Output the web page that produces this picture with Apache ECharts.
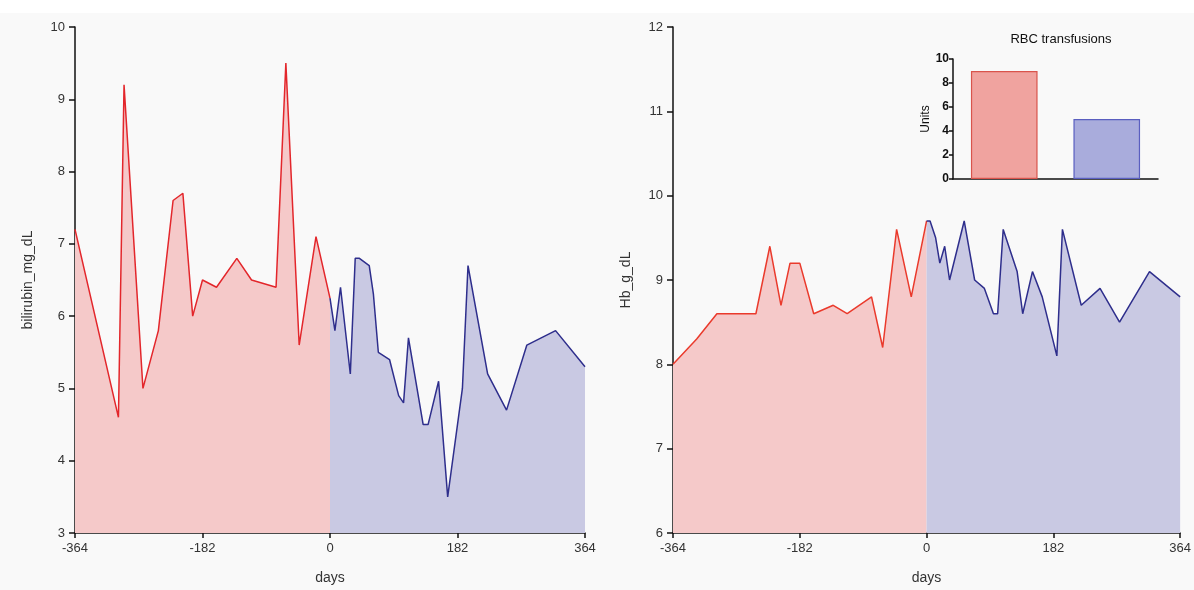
<!DOCTYPE html>
<html>
<head>
<meta charset="utf-8">
<script src="https://cdn.jsdelivr.net/npm/echarts@6/dist/echarts.min.js"></script>
<style>
html,body{margin:0;padding:0;background:#fff;}
#c{width:1194px;height:590px;}
</style>
</head>
<body>
<div id="c"></div>
<script>
// Left chart: bilirubin (mg/dL)
const biliPreDays   = [-364, -302, -294, -267, -245, -224, -210, -196, -182, -162, -133, -112, -77, -63, -44, -20, 0];
const biliPreVals   = [7.2, 4.6, 9.2, 5.0, 5.8, 7.6, 7.7, 6.0, 6.5, 6.4, 6.8, 6.5, 6.4, 9.5, 5.6, 7.1, 6.25];
const biliPostDays  = [0, 7, 15, 29, 36, 42, 56, 62, 69, 85, 98, 105, 112, 133, 140, 155, 168, 189, 197, 225, 252, 281, 322, 364];
const biliPostVals  = [6.25, 5.8, 6.4, 5.2, 6.8, 6.8, 6.7, 6.3, 5.5, 5.4, 4.9, 4.8, 5.7, 4.5, 4.5, 5.1, 3.5, 5.0, 6.7, 5.2, 4.7, 5.6, 5.8, 5.3];

// Right chart: haemoglobin (g/dL)
const hbPreDays  = [-364, -330, -301, -245, -225, -209, -196, -182, -162, -134, -114, -79, -63, -43, -22, 0];
const hbPreVals  = [8.0, 8.3, 8.6, 8.6, 9.4, 8.7, 9.2, 9.2, 8.6, 8.7, 8.6, 8.8, 8.2, 9.6, 8.8, 9.7];
const hbPostDays = [0, 5, 13, 19, 26, 33, 54, 69, 83, 96, 102, 110, 130, 138, 152, 166, 187, 195, 222, 249, 277, 320, 364];
const hbPostVals = [9.7, 9.7, 9.5, 9.2, 9.4, 9.0, 9.7, 9.0, 8.9, 8.6, 8.6, 9.6, 9.1, 8.6, 9.1, 8.8, 8.1, 9.6, 8.7, 8.9, 8.5, 9.1, 8.8];

// Inset: RBC transfusions
const rbcCategories = ['before', 'after'];
const rbcUnits = [9, 5];

function pairs(xs, ys) { return xs.map((x, i) => [x, ys[i]]); }

const RED_LINE = '#e3262b', BLUE_LINE = '#2e2e8c';
const RED_FILL = '#f5c9c9', BLUE_FILL = '#c9c9e3';
const TXT = '#333';
const FONT = 'Liberation Sans, Arial, sans-serif';

function xAxis(gridIndex) {
  return {
    type: 'value', gridIndex, min: -364, max: 364, interval: 182,
    name: 'days', nameLocation: 'middle', nameGap: 38,
    nameTextStyle: { fontSize: 14, color: TXT, fontFamily: FONT },
    axisLine: { show: true, onZero: false, lineStyle: { color: '#111', width: 1.5 } },
    axisTick: { show: true, length: 5, lineStyle: { color: '#111', width: 1.5 } },
    axisLabel: { fontSize: 13, color: TXT, fontFamily: FONT, margin: 9 },
    splitLine: { show: false }
  };
}
function yAxis(gridIndex, min, max, name) {
  return {
    type: 'value', gridIndex, min, max, interval: 1,
    name, nameLocation: 'middle', nameGap: 40,
    nameTextStyle: { fontSize: 14, color: TXT, fontFamily: FONT },
    axisLine: { show: true, onZero: false, lineStyle: { color: '#111', width: 1.5 } },
    axisTick: { show: true, length: 6, lineStyle: { color: '#111', width: 1.5 } },
    axisLabel: { fontSize: 13, color: TXT, fontFamily: FONT, margin: 10 },
    splitLine: { show: false }
  };
}
function areaSeries(idx, data, fill) {
  return { type: 'line', xAxisIndex: idx, yAxisIndex: idx, data, symbol: 'none', silent: true,
    lineStyle: { width: 0 }, areaStyle: { color: fill, opacity: 1, origin: 'start' }, z: 1 };
}
function lineSeries(idx, data, color) {
  return { type: 'line', xAxisIndex: idx, yAxisIndex: idx, data, symbol: 'none', silent: true,
    lineStyle: { width: 1.5, color }, z: 3 };
}

const chart = echarts.init(document.getElementById('c'), null, { renderer: 'canvas' });
chart.setOption({
  animation: false,
  backgroundColor: '#f9f9f9',
  graphic: [{ type: 'rect', left: 0, top: 0, shape: { width: 1194, height: 13 }, style: { fill: '#ffffff' }, z: -10 }],
  title: {
    text: 'RBC transfusions', left: 1056, top: 28, textAlign: 'center',
    textStyle: { fontSize: 13, fontWeight: 'normal', color: '#111', fontFamily: FONT }
  },
  grid: [
    { left: 75, right: 609, top: 27, bottom: 52 },
    { left: 673, right: 6, top: 27, bottom: 52 },
    { left: 953, right: 36, top: 59, bottom: 411 }
  ],
  xAxis: [
    xAxis(0), xAxis(1),
    { type: 'category', gridIndex: 2, data: rbcCategories,
      axisLine: { lineStyle: { color: '#111', width: 1.5 } },
      axisTick: { alignWithLabel: true, length: 4, lineStyle: { color: '#111', width: 1.5 } },
      axisLabel: { show: false } }
  ],
  yAxis: [
    yAxis(0, 3, 10, 'bilirubin_mg_dL'), yAxis(1, 6, 12, 'Hb_g_dL'),
    { type: 'value', gridIndex: 2, min: 0, max: 10, interval: 2,
      name: 'Units', nameLocation: 'middle', nameGap: 21,
      nameTextStyle: { fontSize: 12, color: '#111', fontFamily: FONT },
      axisLine: { show: true, lineStyle: { color: '#111', width: 1.5 } },
      axisTick: { show: true, length: 4, lineStyle: { color: '#111', width: 1.5 } },
      axisLabel: { fontSize: 12, color: '#111', fontWeight: 'bold', fontFamily: FONT, margin: 4 },
      splitLine: { show: false } }
  ],
  series: [
    areaSeries(0, pairs(biliPreDays, biliPreVals), RED_FILL),
    areaSeries(0, pairs(biliPostDays, biliPostVals), BLUE_FILL),
    lineSeries(0, pairs(biliPreDays, biliPreVals), RED_LINE),
    lineSeries(0, pairs(biliPostDays, biliPostVals), BLUE_LINE),
    areaSeries(1, pairs(hbPreDays, hbPreVals), RED_FILL),
    areaSeries(1, pairs(hbPostDays, hbPostVals), BLUE_FILL),
    lineSeries(1, pairs(hbPreDays, hbPreVals), '#ea3a2c'),
    lineSeries(1, pairs(hbPostDays, hbPostVals), BLUE_LINE),
    { type: 'bar', xAxisIndex: 2, yAxisIndex: 2, barWidth: '65%', silent: true,
      data: rbcUnits.map((v, i) => ({ value: v, itemStyle: i === 0
        ? { color: '#f0a39f', borderColor: '#d9544c', borderWidth: 1.2 }
        : { color: '#a9acdc', borderColor: '#5a5fc0', borderWidth: 1.2 } })) }
  ]
});
</script>
</body>
</html>
